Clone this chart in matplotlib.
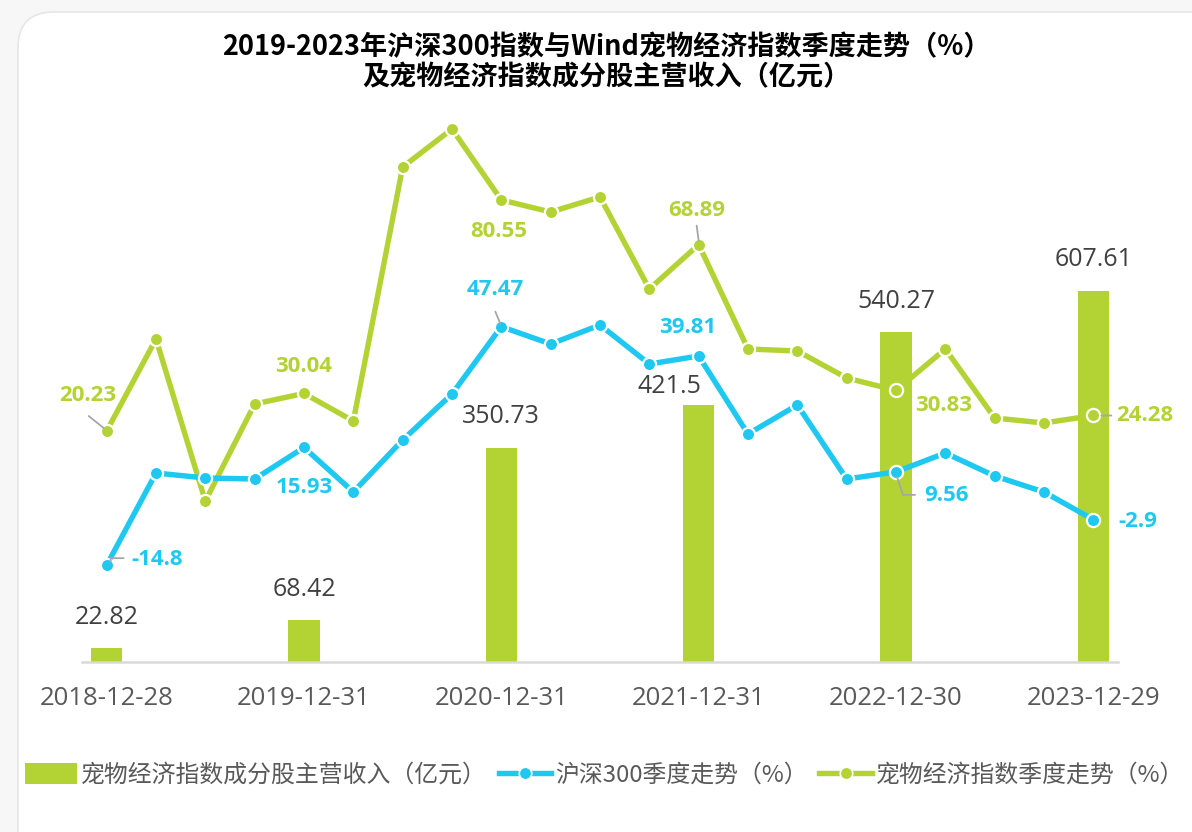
import matplotlib
matplotlib.use('Agg')
import matplotlib.pyplot as plt
from matplotlib.patches import FancyBboxPatch, Patch
from matplotlib.lines import Line2D
from matplotlib.transforms import offset_copy

plt.rcParams['font.family'] = ['Open Sans', 'Noto Sans CJK SC', 'DejaVu Sans']

# ---------------- data ----------------
dates = ['2018-12-28', '2019-03-29', '2019-06-28', '2019-09-30', '2019-12-31',
         '2020-03-31', '2020-06-30', '2020-09-30', '2020-12-31',
         '2021-03-31', '2021-06-30', '2021-09-30', '2021-12-31',
         '2022-03-31', '2022-06-30', '2022-09-30', '2022-12-30',
         '2023-03-31', '2023-06-30', '2023-09-28', '2023-12-29']
tick_dates = ['2018-12-28', '2019-12-31', '2020-12-31', '2021-12-31', '2022-12-30', '2023-12-29']

bar_dates = ['2018-12-28', '2019-12-31', '2020-12-31', '2021-12-31', '2022-12-30', '2023-12-29']
revenue = [22.82, 68.42, 350.73, 421.5, 540.27, 607.61]

csi300 = [-14.8, 9.26, 7.96, 7.70, 15.93, 4.30, 17.88, 29.89, 47.47, 42.95, 47.91,
          37.72, 39.81, 19.45, 27.02, 7.70, 9.56, 14.49, 8.48, 4.30, -2.9]
pet_idx = [20.23, 44.25, 1.95, 27.28, 30.04, 22.84, 89.16, 99.08, 80.55, 77.41, 81.33,
           57.31, 68.89, 41.64, 41.12, 34.07, 30.83, 41.64, 23.62, 22.32, 24.28]

title = '2019-2023年沪深300指数与Wind宠物经济指数季度走势（%）\n及宠物经济指数成分股主营收入（亿元）'
leg_bar = '宠物经济指数成分股主营收入（亿元）'
leg_csi = '沪深300季度走势（%）'
leg_pet = '宠物经济指数季度走势（%）'

# ---------------- style ----------------
GREEN = '#B3D335'
BLUE = '#1EC8F0'
TXT = '#404040'
TICK = '#595959'
LEAD = '#A6A6A6'

W, H = 1192, 832
fig = plt.figure(figsize=(W / 100, H / 100), dpi=100)
fig.patch.set_facecolor('#F7F7F7')

card = FancyBboxPatch((18 / W, -0.05), 1.2, (832 - 12) / H + 0.05,
                      boxstyle='round,pad=0,rounding_size=0.03',
                      transform=fig.transFigure, facecolor='white',
                      edgecolor='#E6E6E6', linewidth=1.2, zorder=-10, mutation_aspect=W / H)
fig.patches.append(card)

left, right = 82 / W, 1118 / W
bottom, top = (H - 662) / H, (H - 100) / H
ax = fig.add_axes([left, bottom, right - left, top - bottom])
ax.set_facecolor('none')
ax2 = ax.twinx()

x = list(range(len(dates)))
bx = [dates.index(d) for d in bar_dates]

ax.bar(bx, revenue, width=0.63, color=GREEN, zorder=2)
ax.set_ylim(0, 920.4)
ax.set_xlim(-0.5, len(dates) - 0.5)

ax2.plot(x, pet_idx, color=GREEN, lw=3.9, marker='o', ms=9.5, mfc=GREEN,
         mec='white', mew=1.6, zorder=3, solid_capstyle='round')
ax2.plot(x, csi300, color=BLUE, lw=3.9, marker='o', ms=9.5, mfc=BLUE,
         mec='white', mew=1.6, zorder=3, solid_capstyle='round')
ax2.set_ylim(-40.08, 106.65)

for a in (ax, ax2):
    for s in a.spines.values():
        s.set_visible(False)
    a.set_yticks([])
ax.spines['bottom'].set_visible(True)
ax.spines['bottom'].set_color('#D9D9D9')
ax.spines['bottom'].set_linewidth(1.8)

ax.set_xticks([dates.index(d) for d in tick_dates])
ax.set_xticklabels(tick_dates, fontsize=18.5, color=TICK)
ax.tick_params(axis='x', length=0, pad=17)

# bar labels (pixel offsets from bar top)
bar_off = {3: (-29, 18)}
for i, (xi, v) in enumerate(zip(bx, revenue)):
    dx, dy = bar_off.get(i, (0, 31))
    ax.annotate(f'{v:g}', (xi, v), xytext=(dx, dy), textcoords='offset pixels',
                ha='center', va='center', fontsize=18, color=TXT, zorder=5)

# line labels: (index, dx, dy) in pixels
pet_lab = [(0, -19, 36), (4, 0, 27), (8, -3, -32), (12, -2, 34), (16, 48, -15), (20, 51, 0)]
csi_lab = [(0, 50, 6), (4, 0, -40), (8, -6, 37), (12, -11, 29), (16, 51, -24), (20, 44, -2)]
for series, labs, col in ((pet_idx, pet_lab, GREEN), (csi300, csi_lab, BLUE)):
    for i, dx, dy in labs:
        ax2.annotate(f'{series[i]:g}', (i, series[i]), xytext=(dx, dy),
                     textcoords='offset pixels', ha='center', va='center',
                     fontsize=16, fontweight='bold', color=col, zorder=6)


def leader(series, i, pts):
    """Gray leader polyline, vertices given as pixel offsets from the data point."""
    for (x0, y0), (x1, y1) in zip(pts[:-1], pts[1:]):
        t0 = offset_copy(ax2.transData, fig=fig, x=x0, y=y0, units='dots')
        t1 = offset_copy(ax2.transData, fig=fig, x=x1, y=y1, units='dots')
        ax2.annotate('', xy=(i, series[i]), xycoords=t1,
                     xytext=(i, series[i]), textcoords=t0,
                     arrowprops=dict(arrowstyle='-', color=LEAD, lw=1.3,
                                     shrinkA=0, shrinkB=0), zorder=4)


leader(pet_idx, 0, [(-18, 15), (-3, 3)])
leader(pet_idx, 12, [(-2, 19), (0, 4)])
leader(pet_idx, 20, [(8, 0), (18, 0)])
leader(csi300, 0, [(4, 3), (4, 7), (17, 7)])
leader(csi300, 8, [(-6, 15), (-1, 3)])
leader(csi300, 16, [(1, -5), (7, -23), (19, -23)])

fig.text(0.509, (H - 62) / H, title, ha='center', va='center', fontsize=19.5,
         fontweight='bold', color='black', linespacing=1.12,
         family=['Noto Sans CJK SC', 'DejaVu Sans'])

handles = [Patch(facecolor=GREEN, edgecolor='none'),
           Line2D([], [], color=BLUE, lw=3.9, marker='o', ms=9, mfc=BLUE, mec='white', mew=1.2),
           Line2D([], [], color=GREEN, lw=3.9, marker='o', ms=9, mfc=GREEN, mec='white', mew=1.2)]
leg = fig.legend(handles, [leg_bar, leg_csi, leg_pet], loc='center', ncol=3,
                 bbox_to_anchor=(0.507, (H - 775) / H), frameon=False,
                 prop={'family': ['Noto Sans CJK SC', 'DejaVu Sans'], 'size': 17.2},
                 handlelength=2.2, handleheight=1.0, handletextpad=0.15, columnspacing=0.5)
for t in leg.get_texts():
    t.set_color(TICK)

fig.savefig('out.png', dpi=100, facecolor=fig.get_facecolor())
